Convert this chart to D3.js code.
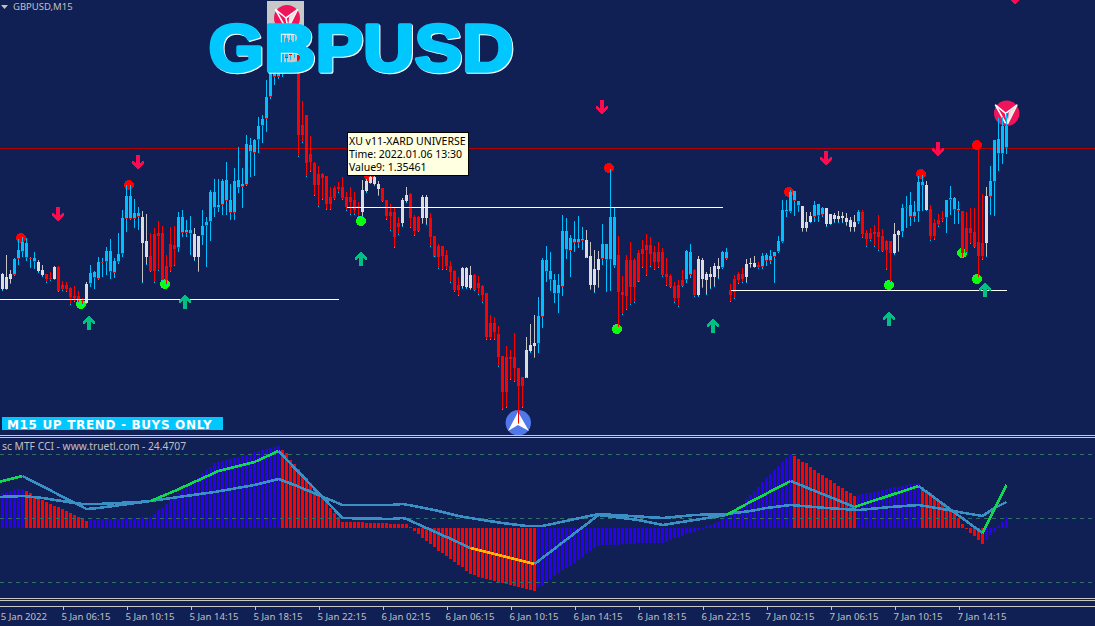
<!DOCTYPE html>
<html>
<head>
<meta charset="utf-8">
<script src="https://cdn.jsdelivr.net/npm/d3@7/dist/d3.min.js"></script>
<style>
html,body{margin:0;padding:0;background:#101f54;overflow:hidden}
svg{display:block}
</style>
</head>
<body>
<svg id="chart" width="1095" height="626"></svg>
<script>
// ---- price data: offsets above BASE_PRICE, in ticks of TICK_SIZE ----
const BASE_PRICE = 1.34894, TICK_SIZE = 0.00003;
const barKindRuns = [['W',3],['B',6],['W',2],['R',2],['W',1],['R',7],['W',1],['B',13],['W',2],['R',7],['B',4],['W',2],['B',24],['R',16],['W',5],['R',5],['W',2],['R',3],['W',2],['R',8],['W',3],['R',13],['W',3],['B',12],['W',4],['B',4],['R',17],['B',2],['R',1],['W',6],['B',2],['R',4],['W',3],['R',1],['B',10],['W',3],['B',3],['W',8],['B',1],['R',8],['W',2],['B',6],['W',1],['R',4],['B',4],['R',6],['W',1],['B',5]];
const highs = [137,155,140,152,171,173,172,153,158,150,
145,136,138,144,144,129,128,123,124,119,
112,128,145,139,153,152,163,171,152,177,
200,225,225,211,203,199,196,177,182,189,
184,155,183,184,198,200,190,194,182,174,
200,193,220,231,231,231,248,226,242,263,
242,275,272,271,293,295,330,365,372,380,
382,382,378,376,372,309,295,274,248,244,
237,234,223,224,228,233,218,223,218,208,
230,231,235,236,229,222,210,206,202,193,
212,223,217,195,194,215,215,197,174,166,
164,160,149,140,133,143,143,144,136,134,
125,117,95,93,84,54,64,60,77,42,
33,73,86,95,113,152,164,158,136,136,
195,192,175,189,194,183,180,168,160,159,
186,166,241,203,174,134,155,168,152,160,
170,176,173,164,168,162,152,136,128,130,
140,160,166,141,154,152,138,143,147,152,
159,162,126,135,138,142,151,152,154,148,
157,157,160,158,174,210,210,220,219,209,
204,198,198,209,206,203,202,196,197,199,
198,197,193,195,200,200,180,182,185,195,
181,170,169,187,180,206,214,218,209,234,
235,229,205,191,196,199,210,224,213,209,
199,198,202,202,260,216,223,244,270,292,293,297];
const bodyTops = [136,133,136,151,160,168,167,152,152,148,
140,136,132,143,143,125,125,122,114,114,
111,126,137,138,148,148,159,159,149,156,
192,214,214,197,197,193,169,154,176,177,
177,144,166,165,193,193,180,180,176,174,
184,188,218,218,205,229,230,210,229,230,
226,266,265,270,284,291,313,352,365,372,
375,372,370,368,355,285,295,256,247,236,
236,234,213,222,223,223,213,213,210,204,
220,229,233,233,226,222,210,198,198,187,
210,215,216,193,193,213,213,192,174,164,
164,155,144,139,125,142,142,135,135,127,
124,117,87,87,76,54,53,53,53,42,
33,60,65,67,94,150,150,139,130,125,
179,179,172,171,171,171,170,154,141,151,
166,166,193,193,155,118,150,150,150,157,
161,165,165,158,158,158,136,134,124,125,
130,159,158,140,151,150,136,136,144,144,
158,158,120,131,136,136,146,147,147,145,
154,155,154,158,169,200,200,218,219,209,
204,188,194,205,206,202,202,196,195,194,
194,192,190,188,198,198,177,177,178,178,
174,169,169,176,179,202,203,205,198,228,
228,225,201,187,190,192,210,212,212,201,
199,182,182,178,168,167,214,229,270,271,284,284];
const bodyBottoms = [121,121,131,135,151,158,152,151,148,139,
135,131,131,131,119,121,121,113,112,110,
109,107,126,132,131,147,148,138,137,148,
156,191,191,191,193,167,153,139,139,174,
130,130,143,161,162,177,177,176,153,153,
174,184,188,202,202,205,209,197,197,222,
223,225,258,257,270,284,291,313,333,333,
336,352,355,358,275,275,247,248,225,225,
232,206,206,212,221,212,203,208,200,202,
198,219,227,226,221,209,194,194,173,183,
187,209,192,179,179,192,192,173,153,153,
154,144,138,120,120,124,123,122,120,122,
115,73,73,78,53,18,18,51,42,24,
24,32,59,64,66,93,138,130,116,116,
123,160,159,167,167,169,152,125,125,140,
151,150,150,144,118,115,114,123,123,128,
156,160,156,148,148,135,133,123,112,112,
124,130,135,115,115,131,130,133,133,141,
142,151,115,118,130,131,133,146,143,143,
143,149,149,153,158,168,198,198,209,204,
182,182,188,193,194,195,186,186,191,191,
192,188,183,183,188,176,171,171,176,173,
159,160,157,157,175,178,202,193,193,198,
224,200,174,174,186,191,192,210,200,199,
157,157,177,163,154,154,167,213,228,256,256,262];
const lows = [119,120,126,134,145,153,149,142,141,137,
133,127,129,130,118,119,118,105,108,107,
105,106,123,121,130,133,135,131,132,146,
153,178,190,182,180,127,145,138,127,139,
129,125,138,144,158,173,173,155,149,138,
165,143,169,193,198,195,195,190,190,217,
202,224,233,234,257,267,278,311,325,331,
333,345,350,352,253,267,233,238,214,203,
210,200,200,210,217,210,199,195,195,193,
193,217,226,224,214,208,190,179,162,175,
183,207,182,174,178,186,185,163,153,141,
140,140,127,118,114,121,121,120,119,115,
107,70,70,70,43,0,2,30,28,-14,
2,32,57,52,57,82,128,119,107,97,
114,151,133,158,162,160,152,120,117,122,
145,118,119,142,82,95,100,105,107,128,
142,134,143,140,142,133,124,122,107,103,
123,127,132,113,113,122,115,121,123,131,
141,150,108,111,126,127,127,142,142,141,
141,144,146,127,157,167,193,197,194,198,
178,178,187,188,188,193,183,185,187,187,
187,184,178,178,186,172,163,169,163,159,
158,140,127,155,158,173,182,184,188,188,
199,199,169,170,183,188,177,195,186,186,
152,157,166,162,132,150,153,195,194,239,246,256];

// signal markers [bar, price offset]
const redDots = [[4.6,172],[31.6,225],[91.6,234],[151.6,242],[196.6,218],[229.6,236],[243.6,265]];
const greenDots = [[19.6,106],[40.6,126],[89.6,189],[153.6,81],[221.6,125],[239.9,157],[243.6,131]];
const downArrows = [[13.9,196],[33.9,248],[149.9,303],[205.9,252],[233.9,261],[253.1,413]];
const upArrows = [[21.6,87],[45.6,108],[89.6,151],[177.6,84],[221.6,91],[245.6,120]];
const supportLevels = [[-1,84,111],[86,180,203],[182,251,120]]; // from bar, to bar, price offset
const redLevel = 262;

// ---- oscillator data ----
const histValues = [35,36,37,38,39,39,37,35,32,30,
28,26,24,22,21,19,17,15,13,11,
9,7,8,8,8,9,9,9,9,9,
10,10,10,10,10,11,11,11,14,18,
20,24,28,31,35,38,42,45,47,50,
55,58,61,65,66,67,68,69,70,71,
72,73,75,76,77,78,79,80,81,82,
78,75,68,64,59,54,50,45,40,35,
30,26,20,15,11,6,6,6,6,6,
6,5,5,5,5,5,5,4,4,4,
4,4,1,-3,-6,-10,-13,-16,-19,-23,
-25,-28,-31,-34,-37,-39,-43,-46,-47,-49,
-50,-51,-52,-53,-54,-55,-56,-57,-58,-59,
-60,-61,-62,-63,-59,-58,-54,-51,-48,-45,
-42,-40,-38,-35,-32,-29,-25,-23,-20,-18,
-17,-17,-17,-17,-17,-16,-16,-16,-16,-15,
-15,-15,-15,-15,-15,-15,-14,-12,-10,-9,
-8,-6,-5,-4,-2,-1,2,3,5,6,
9,11,12,14,16,20,29,33,37,41,
46,50,54,58,62,66,70,74,72,69,
66,65,61,58,55,53,50,48,45,42,
40,37,35,32,33,34,35,35,36,37,
38,39,40,41,41,42,43,44,44,45,
41,38,35,31,28,25,22,18,15,10,
4,-1,-5,-8,-12,-16,-12,-7,-4,2,6,11];
const histRedRuns = [[6,21],[70,133],[198,213],[230,245]];
const fastBars = [-1,5,21,24,37,43,54,63,69,85,97,100,101,106,111,117,133,149,159,165,173,181,186,197,213,229,245,251];
const fastValues = [36,42,9,10,17,27,47,56,67,0,-1,0,-1,-10,-19,-30,-46,3,-2,-7,-2,3,14,37,11,32,-15,33];
const fastSegments = [[-1,5,'g'],[5,37,'b'],[37,69,'g'],[69,117,'b'],[117,133,'o'],[133,181,'b'],[181,197,'g'],[197,213,'b'],[213,229,'g'],[229,245,'b'],[245,251,'g']];
const slowBars = [-1,5,10,18,20,24,34,37,44,53,63,69,73,79,85,97,100,103,109,114,120,125,131,135,142,149,157,165,173,181,187,191,197,206,214,222,229,235,239,245,248,251];
const slowValues = [21,22,20,15,14,14,16,17,21,26,33,39,33,23,13,13,14,12,7,2,-2,-5,-8,-8,-2,4,2,0,3,4,7,10,13,10,8,11,13,9,6,2,10,16];
const cciLevels = [64,0,-64];

// ---- labels ----
const tickBars = [-1,15,31,47,63,79,95,111,127,143,159,175,191,207,223,239];
const tickLabels = ["5 Jan 2022","5 Jan 06:15","5 Jan 10:15","5 Jan 14:15","5 Jan 18:15","5 Jan 22:15","6 Jan 02:15","6 Jan 06:15","6 Jan 10:15","6 Jan 14:15","6 Jan 18:15","6 Jan 22:15","7 Jan 02:15","7 Jan 06:15","7 Jan 10:15","7 Jan 14:15"];
const tooltipLines = ["XU v11-XARD UNIVERSE","Time: 2022.01.06 13:30","Value9: 1.35461"];

// ---- style ----
const BG='#101f54', CYAN='#00bfff', RED='#ff0000', WHITE='#dcdcdc', WICKW='#c4c4c4';
const HBLUE='#2a00f0', LINEB='#3a8fc4', LINEG='#10d850', LINEO='#ffb400', BANNER='#00c8ff';
const UI='"Noto Sans","Open Sans",sans-serif';

const kinds = barKindRuns.flatMap(([k,n]) => d3.range(n).map(() => k));
const toPrice = t => BASE_PRICE + t*TICK_SIZE;

const svg = d3.select('#chart');
svg.append('rect').attr('width',1095).attr('height',626).attr('fill',BG);

const x = d3.scaleLinear().domain([0,251]).range([2.5,1006.5]);
const yP = d3.scaleLinear().domain([toPrice(0),toPrice(410)]).range([410,0]);
const yPrice = t => Math.round(yP(toPrice(t)));
const yCci = d3.scaleLinear().domain([64,-64]).range([454,582]);
const yHist = d3.scaleLinear().domain([0,64]).range([528,464]);

const crisp = svg.append('g').attr('shape-rendering','crispEdges');

// reference red line
crisp.append('rect').attr('x',0).attr('width',1095).attr('y',yPrice(redLevel)).attr('height',1).attr('fill','#b40000');

// logos behind candles
function mark(g,cx,cy,r){
  g.append('circle').attr('cx',cx).attr('cy',cy).attr('r',r).attr('fill','#f0145a');
  const s=r/12.5, p=(a)=>a.map(([u,v])=>[cx+u*s,cy+v*s].join(',')).join(' ');
  g.append('polyline').attr('points',p([[-11,-8],[-1,0],[10,-8],[1,10],[-1,0],[-11,-8],[-1,10]]))
    .attr('fill','none').attr('stroke','#ffffff').attr('stroke-width',1.6).attr('stroke-linejoin','round');
  g.append('polygon').attr('points',p([[10,-8],[2,-1],[1,10]])).attr('fill','#e8e8e8');
}
const logos = svg.append('g');
logos.append('rect').attr('x',267).attr('y',1).attr('width',37).attr('height',64).attr('fill','#c8c8c8');
mark(logos,287,18,13);
mark(logos,1006.7,113.3,12.7);
logos.append('circle').attr('cx',518.3).attr('cy',422.7).attr('r',12.7).attr('fill','#5078e8');
logos.append('polygon').attr('points','518,412 529,431 518,425 508,431').attr('fill','#ffffff');

// dots
const dots = svg.append('g').attr('shape-rendering','crispEdges');
dots.selectAll('.rd').data(redDots).join('circle').attr('cx',d=>x(d[0])).attr('cy',d=>yPrice(d[1])).attr('r',5).attr('fill','#ff0000');
const dots2 = svg.append('g').attr('shape-rendering','crispEdges');
dots2.selectAll('.gd').data(greenDots).join('circle').attr('cx',d=>x(d[0])).attr('cy',d=>yPrice(d[1])).attr('r',5).attr('fill','#0cff0c');

// candles
const bars = d3.range(highs.length);
const wickLayer = svg.append('g').attr('shape-rendering','crispEdges');
wickLayer.selectAll('rect').data(bars).join('rect')
  .attr('x',i=>x(i)-0.5).attr('width',1)
  .attr('y',i=>yPrice(highs[i])).attr('height',i=>Math.max(1,yPrice(lows[i])-yPrice(highs[i])))
  .attr('fill',i=>kinds[i]==='B'?CYAN:kinds[i]==='R'?RED:WICKW);
const candleLayer = svg.append('g').attr('shape-rendering','crispEdges');
candleLayer.append('g').selectAll('rect').data(bars).join('rect')
  .attr('x',i=>x(i)-1.5).attr('width',3)
  .attr('y',i=>yPrice(bodyTops[i])).attr('height',i=>Math.max(1,yPrice(bodyBottoms[i])-yPrice(bodyTops[i])))
  .attr('fill',i=>kinds[i]==='B'?CYAN:kinds[i]==='R'?RED:WHITE);
candleLayer.append('g').selectAll('rect').data(bars.filter(i=>kinds[i]!=='B')).join('rect')
  .attr('x',i=>x(i)-0.5).attr('width',1).attr('height',1)
  .attr('y',i=>yPrice(lows[i])-1).attr('fill',CYAN);
candleLayer.append('g').selectAll('rect').data(bars.filter(i=>kinds[i]==='B')).join('rect')
  .attr('x',i=>x(i)-1.5).attr('width',3).attr('height',1)
  .attr('y',i=>yPrice(bodyBottoms[i])-1).attr('fill',RED);

// support lines
candleLayer.append('g').selectAll('rect').data(supportLevels).join('rect')
  .attr('x',d=>Math.max(0,x(d[0]))).attr('width',d=>x(d[1])-Math.max(0,x(d[0])))
  .attr('y',d=>yPrice(d[2])).attr('height',1).attr('fill','#ffffff');

// arrows
const arrowUp='M0,-7.5L5.7,-1.5L5.7,1.5L2.2,-1L2.2,7L-2.2,7L-2.2,-1L-5.7,1.5L-5.7,-1.5Z';
const arrows = svg.append('g').attr('shape-rendering','crispEdges');
arrows.selectAll('path').data(upArrows).join('path').attr('d',arrowUp)
  .attr('transform',d=>`translate(${x(d[0])},${yPrice(d[1])})`).attr('fill','#00c082');
const arrows2 = svg.append('g').attr('shape-rendering','crispEdges');
arrows2.selectAll('path').data(downArrows).join('path').attr('d',arrowUp)
  .attr('transform',d=>`translate(${x(d[0])},${yPrice(d[1])}) rotate(180)`).attr('fill','#ff0a50');

// big symbol label
const big = svg.append('g').attr('font-family','"Liberation Sans",Arial,sans-serif').attr('font-weight','700').attr('font-size',66).attr('stroke-width',3.4).attr('stroke-linejoin','round');
big.append('text').attr('x',209.6).attr('y',71.6).attr('textLength',305).attr('lengthAdjust','spacingAndGlyphs').text('GBPUSD').attr('fill','#ffffff').attr('stroke','#ffffff');
big.append('text').attr('x',208.6).attr('y',70.6).attr('textLength',305).attr('lengthAdjust','spacingAndGlyphs').text('GBPUSD').attr('fill','#00c8ff').attr('stroke','#00c8ff');

// symbol header
svg.append('polygon').attr('points','1,5 8,5 4.5,9').attr('fill','#c0c0c0');
svg.append('text').attr('x',13).attr('y',10).attr('font-family',UI).attr('font-size',9.5).attr('fill','#c0c0c0').text('GBPUSD,M15');

// tooltip
const tip = svg.append('g');
tip.append('rect').attr('x',347).attr('y',132).attr('width',121).attr('height',43).attr('fill','#ffffe1').attr('stroke','#000').attr('stroke-width',1).attr('shape-rendering','crispEdges');
tip.selectAll('text').data(tooltipLines).join('text')
  .attr('x',349).attr('y',(d,i)=>145+i*13).attr('font-family',UI).attr('font-size',10.5).attr('fill','#000').text(d=>d);

// trend banner
svg.append('rect').attr('x',2).attr('y',417).attr('width',221).attr('height',13).attr('fill',BANNER).attr('shape-rendering','crispEdges');
svg.append('text').attr('x',7).attr('y',428.5).attr('font-family','"DejaVu Sans",sans-serif').attr('font-weight','700').attr('font-size',12).attr('letter-spacing',0.66).attr('fill','#ffffff').text('M15 UP TREND - BUYS ONLY');

// panel separators
const sep = svg.append('g').attr('shape-rendering','crispEdges').attr('fill','#c8c8c8');
[435,437,598,600].forEach(r=>sep.append('rect').attr('x',0).attr('width',1095).attr('y',r).attr('height',1));

// oscillator
svg.append('text').attr('x',2).attr('y',450).attr('font-family',UI).attr('font-size',10.3).attr('fill','#c0c0c0').text('sc MTF CCI - www.truetl.com - 24.4707');
const hist = svg.append('g').attr('shape-rendering','crispEdges');
const isRed = i => histRedRuns.some(([a,b])=>i>=a&&i<=b);
hist.selectAll('rect').data(bars).join('rect')
  .attr('x',i=>x(i)-1.5).attr('width',3)
  .attr('y',i=>Math.min(yHist(histValues[i]),yHist(0))).attr('height',i=>Math.abs(yHist(histValues[i])-yHist(0)))
  .attr('fill',i=>isRed(i)?RED:HBLUE);
svg.append('g').attr('shape-rendering','crispEdges').selectAll('line').data(cciLevels).join('line')
  .attr('x1',0).attr('x2',1095).attr('y1',d=>yCci(d)+0.5).attr('y2',d=>yCci(d)+0.5)
  .attr('stroke','#2f6f66').attr('stroke-dasharray','4,4');
const lineGen = d3.line().x(d=>x(d[0])).y(d=>yCci(d[1]));
const lines = svg.append('g').attr('fill','none').attr('stroke-width',2.6).attr('shape-rendering','crispEdges');
lines.append('path').attr('d',lineGen(slowBars.map((b,i)=>[b,slowValues[i]]))).attr('stroke',LINEB);
const fastColor={g:LINEG,b:LINEB,o:LINEO};
fastSegments.forEach(([a,b,c])=>{
  const pts=fastBars.map((bar,i)=>[bar,fastValues[i]]).filter(p=>p[0]>=a&&p[0]<=b);
  lines.append('path').attr('d',lineGen(pts)).attr('stroke',fastColor[c]);
});

// time axis
const axisG = svg.append('g').attr('transform','translate(0,606.5)');
axisG.call(d3.axisBottom(x).tickValues(tickBars).tickSize(3).tickFormat((d,i)=>tickLabels[i]));
axisG.select('.domain').remove();
axisG.selectAll('line').attr('stroke','#c8c8c8').attr('shape-rendering','crispEdges');
axisG.selectAll('text').attr('text-anchor','start').attr('dx',(d,i)=>i===0?1.7:-1.5).attr('y',7).attr('dy','0.71em').attr('fill','#c0c0c0').attr('font-family',UI).attr('font-size',9.6);
svg.append('rect').attr('x',0).attr('width',1095).attr('y',606).attr('height',1).attr('fill','#c8c8c8').attr('shape-rendering','crispEdges');
</script>
</body>
</html>
